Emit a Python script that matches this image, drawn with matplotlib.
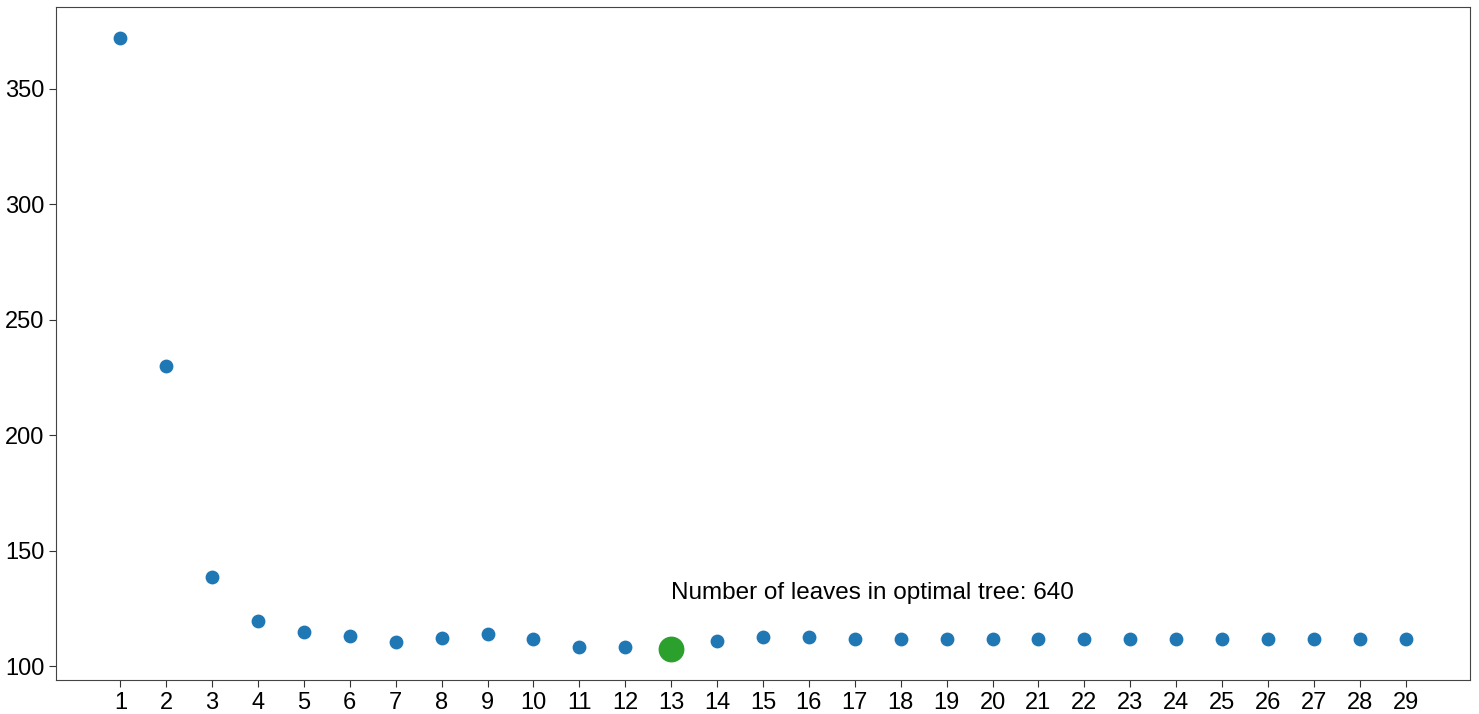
import numpy as np
import matplotlib
matplotlib.use("Agg")
import matplotlib.pyplot as plt

plt.rcParams['font.family'] = ['Liberation Sans', 'DejaVu Sans']

# number of leaves index vs. error
n_leaves = list(range(1, 30))
error = [372, 230, 138.8, 119.4, 114.8, 112.9, 110.5, 112.1, 113.8, 111.6,
         108.3, 108.2, 107.3, 111.0, 112.6, 112.6, 111.8, 111.8, 111.8, 111.8,
         111.8, 111.8, 111.8, 111.8, 111.8, 111.8, 111.8, 111.8, 111.8]
best_idx = 12
optimal_leaves = 640

fig = plt.figure(figsize=(14.79, 7.14), dpi=100)
ax = fig.add_axes([0.0379, 0.0476, 0.956, 0.9425])

others = [i for i in range(len(n_leaves)) if i != best_idx]
ax.scatter([n_leaves[i] for i in others], [error[i] for i in others],
           s=80, color='#1f77b4', zorder=3)
ax.scatter([n_leaves[best_idx]], [error[best_idx]], s=310, color='#2ca02c', zorder=3)

ax.text(n_leaves[best_idx], 129, f"Number of leaves in optimal tree: {optimal_leaves}",
        fontsize=17.5, ha='left', va='baseline')

ax.set_xticks(n_leaves)
ax.set_yticks([100, 150, 200, 250, 300, 350])
ax.tick_params(labelsize=17, length=5, color='#333333')
for s in ax.spines.values():
    s.set_color('#444444')

plt.savefig("out.png", dpi=100)
